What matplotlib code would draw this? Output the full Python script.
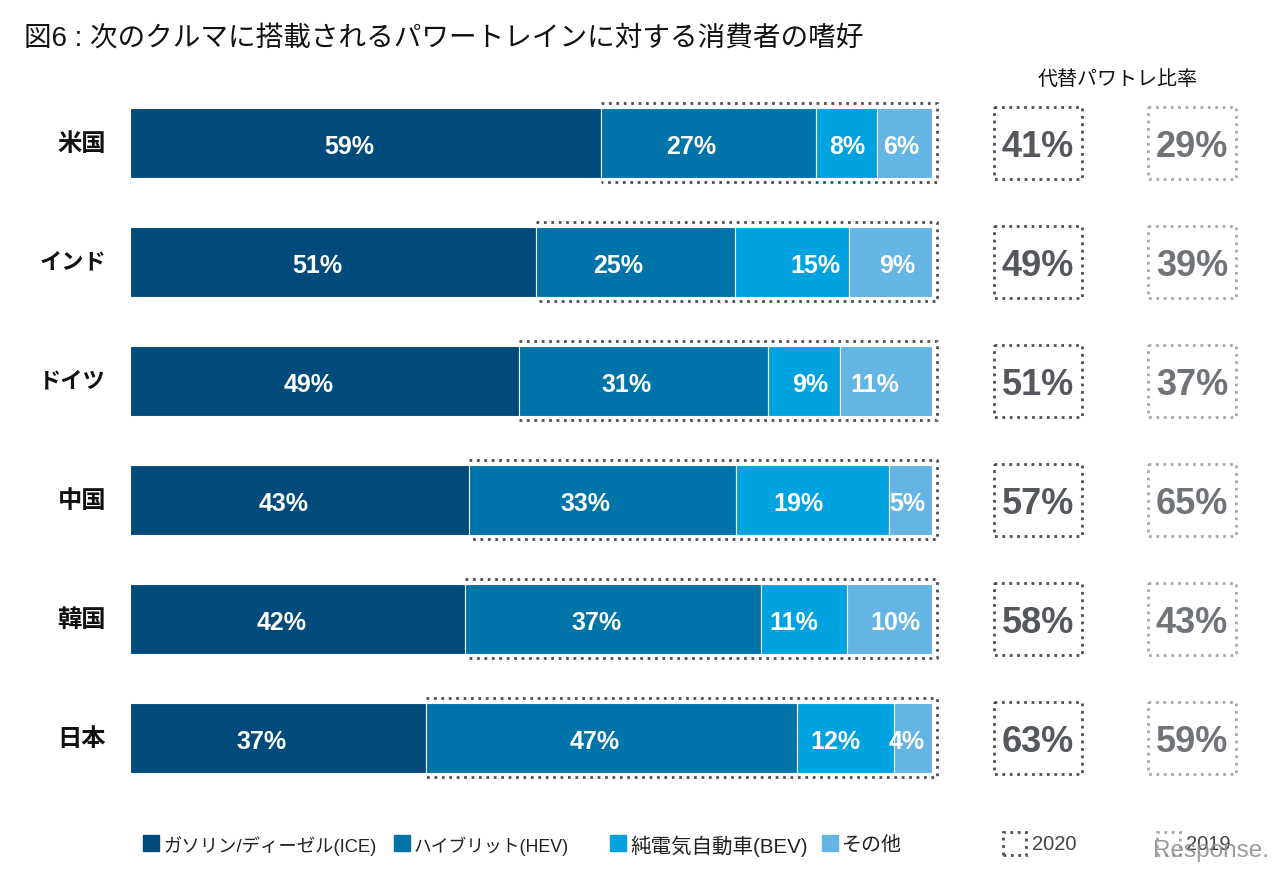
#!/usr/bin/env python3
"""Consumer preference for next car's powertrain, stacked bars plus side boxes."""

import matplotlib
matplotlib.use('Agg')
import matplotlib.pyplot as plt
from matplotlib.patches import Rectangle

plt.rcParams['font.family'] = ['Liberation Sans', 'Noto Sans CJK JP', 'DejaVu Sans']

countries = ['米国', 'インド', 'ドイツ', '中国', '韓国', '日本']
series_names = ['ガソリン/ディーゼル(ICE)', 'ハイブリット(HEV)', '純電気自動車(BEV)', 'その他']

# bar lengths, they differ a bit from the printed labels
ice = [58.7, 50.6, 48.5, 42.3, 41.8, 36.9]
hev = [26.8, 24.8, 31.0, 33.2, 36.9, 46.3]
bev = [7.7, 14.3, 9.0, 19.1, 10.7, 12.0]
other = [6.8, 10.3, 11.5, 5.4, 10.6, 4.8]

ice_labels = [59, 51, 49, 43, 42, 37]
hev_labels = [27, 25, 31, 33, 37, 47]
bev_labels = [8, 15, 9, 19, 11, 12]
other_labels = [6, 9, 11, 5, 10, 4]

alt_2020 = [41, 49, 51, 57, 58, 63]
alt_2019 = [29, 39, 37, 65, 43, 59]

colors = ['#004a7c', '#0073a9', '#00a3e0', '#64b4e4']
W, H = 1280, 869
PX_X = 8.02   # pixels per percent
PX_Y = 119.0  # pixels per row

# the labels are not centred in the source, offsets from segment centre in px
label_shift = [[-16] * 6, [-17] * 6, [1, 23, 7, -14, -10, -10], [-4, 6, -11, -3, 6, -6]]
name_sizes = [17.5, 16, 16, 17.5, 17.5, 17.5]
legend_sizes = [13.2, 12.8, 14.8, 14.4]


def fx(px):
    return px / W


def fy(py):
    return 1 - py / H


fig = plt.figure(figsize=(W / 100, H / 100), dpi=100, facecolor='white')
ax = fig.add_axes([0, 0, 1, 1])
ax.set_xlim(-130 / PX_X, (W - 130) / PX_X)
ax.set_ylim((H - 143) / PX_Y, -143 / PX_Y)
ax.axis('off')

left = [0.0] * len(countries)
for vals, labs, col, shift in zip([ice, hev, bev, other],
                                  [ice_labels, hev_labels, bev_labels, other_labels],
                                  colors, label_shift):
    ax.barh(range(len(countries)), vals, height=0.595, left=left, color=col,
            edgecolor='white', linewidth=0.8)
    for i, (v, lab) in enumerate(zip(vals, labs)):
        ax.text(left[i] + v / 2 + shift[i] / PX_X, i + 0.035, f'{lab}%', ha='center',
                va='center', color='white', fontsize=18, fontweight='bold')
    left = [a + b for a, b in zip(left, vals)]

dots = (0, (1, 1.67))
for i, name in enumerate(countries):
    ax.text(-3.0, i + 0.01, name, ha='right', va='center', fontsize=name_sizes[i],
            fontweight='bold', color='#111111')
    # dotted outline around the non-ICE part, open on the left
    ax.plot([ice[i], 100.6, 100.6, ice[i]], [i - 0.335, i - 0.335, i + 0.325, i + 0.325],
            color='#4c4f57', linewidth=2.0, linestyle=dots)
    for xpx, vals, edge, tcol in [(994, alt_2020, '#4c4f57', '#54575c'),
                                  (1148, alt_2019, '#a8a8a8', '#707377')]:
        x0 = (xpx - 130) / PX_X
        ax.add_patch(Rectangle((x0, i - 0.30), 88 / PX_X, 0.60, fill=False,
                               edgecolor=edge, linewidth=2.0, linestyle=dots))
        ax.text(x0 + 44 / PX_X, i + 0.04, f'{vals[i]}%', ha='center', va='center',
                color=tcol, fontsize=26, fontweight='bold')

fig.text(fx(24), fy(39), '図6 : 次のクルマに搭載されるパワートレインに対する消費者の嗜好',
         fontsize=19.9, va='center', color='#111111')
fig.text(fx(1118), fy(79), '代替パワトレ比率', fontsize=14.4, ha='center', va='center',
         color='#111111')

# legend
for xpx, name, col, size in zip([143, 394, 610, 822], series_names, colors, legend_sizes):
    fig.patches.append(Rectangle((fx(xpx), fy(851)), 16 / W, 16 / H, color=col,
                                 transform=fig.transFigure))
    fig.text(fx(xpx + 20), fy(846), name, fontsize=size, va='center', color='#222222')

for xpx, name, edge in [(1003, '2020', '#4c4f57'), (1157, '2019', '#a8a8a8')]:
    fig.patches.append(Rectangle((fx(xpx), fy(855)), 23 / W, 23 / H, fill=False,
                                 edgecolor=edge, linewidth=2.0, linestyle=dots,
                                 transform=fig.transFigure))
    fig.text(fx(xpx + 29), fy(845), name, fontsize=14.5, va='center', color='#444444')

# site watermark
fig.text(fx(1153), fy(851), 'Response.', fontsize=17.5, va='center', color='#8a8a8a',
         alpha=0.85, family=['Liberation Sans'])

fig.savefig('out.png', dpi=100, facecolor='white')
plt.close()
